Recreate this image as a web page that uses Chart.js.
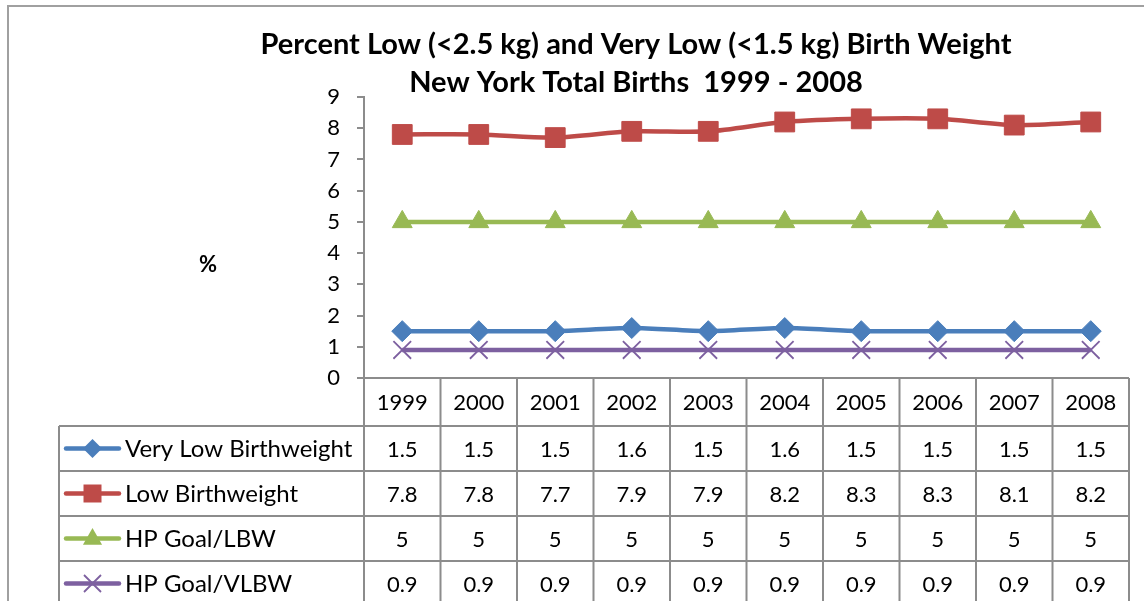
<!DOCTYPE html>
<html>
<head>
<meta charset="utf-8">
<script src="https://cdn.jsdelivr.net/npm/chart.js@4.4.1/dist/chart.umd.min.js"></script>
<style>
html,body{margin:0;padding:0;background:#fff;}
#wrap{width:1144px;height:601px;position:relative;}
</style>
</head>
<body>
<div id="wrap"><canvas id="c" width="1144" height="601"></canvas></div>
<script>
const years = ['1999','2000','2001','2002','2003','2004','2005','2006','2007','2008'];
const veryLowBW = [1.5,1.5,1.5,1.6,1.5,1.6,1.5,1.5,1.5,1.5];
const lowBW = [7.8,7.8,7.7,7.9,7.9,8.2,8.3,8.3,8.1,8.2];
const goalLBW = [5,5,5,5,5,5,5,5,5,5];
const goalVLBW = [0.9,0.9,0.9,0.9,0.9,0.9,0.9,0.9,0.9,0.9];
const seriesNames = ['Very Low Birthweight','Low Birthweight','HP Goal/LBW','HP Goal/VLBW'];
const titleLines = ['Percent Low (<2.5 kg) and Very Low (<1.5 kg) Birth Weight','New York Total Births  1999 - 2008'];
const yAxisTitle = '%';

const colors = ['#4A7EBB','#BE4B48','#98B954','#7D60A0'];
const FONT = 'Lato, "Open Sans", sans-serif';
const GRID = '#8C8C8C';

function drawMarker(ctx, style, x, y, color){
  ctx.save();
  ctx.fillStyle = color; ctx.strokeStyle = color;
  ctx.beginPath();
  if(style==='rectRot'){ const r=9.5; ctx.moveTo(x,y-r);ctx.lineTo(x+r,y);ctx.lineTo(x,y+r);ctx.lineTo(x-r,y);ctx.closePath();ctx.fill(); }
  else if(style==='rect'){ const s=9; ctx.rect(x-s,y-s,2*s,2*s); ctx.fill(); }
  else if(style==='triangle'){ const r=10.5; ctx.moveTo(x,y-r);ctx.lineTo(x+r*0.866*1.05,y+r*0.6);ctx.lineTo(x-r*0.866*1.05,y+r*0.6);ctx.closePath();ctx.fill(); }
  else if(style==='crossRot'){ const d=8.5; ctx.lineWidth=1.8; ctx.moveTo(x-d,y-d);ctx.lineTo(x+d,y+d);ctx.moveTo(x+d,y-d);ctx.lineTo(x-d,y+d);ctx.stroke(); }
  ctx.restore();
}

const tablePlugin = {
  id:'tablePlugin',
  afterDraw(chart){
    const ctx = chart.ctx;
    const ca = chart.chartArea;
    const xs = chart.scales.x;
    const n = years.length;
    const colW = (ca.right - ca.left)/n;
    ctx.save();
    // outer border
    ctx.strokeStyle = '#A0A0A0'; ctx.lineWidth = 2;
    ctx.beginPath(); ctx.moveTo(8,601); ctx.lineTo(8,6); ctx.lineTo(1144,6); ctx.stroke();
    // title
    ctx.fillStyle = '#000';
    ctx.textAlign='center'; ctx.textBaseline='middle';
    ctx.font = 'bold 29px '+FONT;
    ctx.fillText(titleLines[0], 636, 45);
    ctx.fillText(titleLines[1], 636, 83);
    // y title
    ctx.font = 'bold 22px '+FONT;
    ctx.fillText(yAxisTitle, 208, 265);
    // table grid
    const rowTops = [ca.bottom, ca.bottom+48, ca.bottom+93, ca.bottom+138, ca.bottom+183];
    const legendLeft = 59;
    ctx.strokeStyle = GRID; ctx.lineWidth = 2;
    ctx.beginPath();
    ctx.moveTo(357, ca.bottom); ctx.lineTo(ca.right, ca.bottom);
    for(let i=1;i<rowTops.length;i++){ ctx.moveTo(legendLeft, rowTops[i]); ctx.lineTo(ca.right, rowTops[i]); }
    for(let i=0;i<=n;i++){ const x = ca.left + i*colW; ctx.moveTo(x, ca.bottom); ctx.lineTo(x, 601); }
    ctx.moveTo(legendLeft, rowTops[1]); ctx.lineTo(legendLeft, 601);
    ctx.stroke();
    // header
    ctx.fillStyle='#000';
    ctx.font = '22px '+FONT;
    ctx.textAlign='center'; ctx.textBaseline='middle';
    years.forEach((y,i)=>{ ctx.fillText(y, xs.getPixelForValue(i), (rowTops[0]+rowTops[1])/2+1); });
    // rows
    const styles = ['rectRot','rect','triangle','crossRot'];
    chart.data.datasets.forEach((ds,r)=>{
      const yc = (rowTops[r+1] + (rowTops[r+2]||rowTops[r+1]+45))/2 + 1;
      ctx.fillStyle='#000'; ctx.textAlign='center';
      ctx.font = '22px '+FONT;
      ds.data.forEach((v,i)=>{ ctx.fillText(String(v), xs.getPixelForValue(i), yc); });
      // legend key
      ctx.save();
      ctx.strokeStyle = colors[r]; ctx.lineWidth = 4.5; ctx.lineCap='round';
      ctx.beginPath(); ctx.moveTo(66, yc-1); ctx.lineTo(119, yc-1); ctx.stroke();
      ctx.restore();
      drawMarker(ctx, styles[r], 92.5, yc-1, colors[r]);
      ctx.fillStyle='#000'; ctx.textAlign='left';
      ctx.font = '24px '+FONT;
      ctx.fillText(seriesNames[r], 125, yc);
    });
    ctx.restore();
  }
};

const common = {borderWidth:4.5, tension:0.3, fill:false, pointBorderWidth:1};
new Chart(document.getElementById('c'), {
  type:'line',
  data:{
    labels: years,
    datasets:[
      Object.assign({label:seriesNames[0], data:veryLowBW, borderColor:colors[0], backgroundColor:colors[0], pointStyle:'rectRot', pointRadius:10.5}, common),
      Object.assign({label:seriesNames[1], data:lowBW, borderColor:colors[1], backgroundColor:colors[1], pointStyle:'rect', pointRadius:14}, common),
      Object.assign({label:seriesNames[2], data:goalLBW, borderColor:colors[2], backgroundColor:colors[2], pointStyle:'triangle', pointRadius:11.5}, common),
      Object.assign({label:seriesNames[3], data:goalVLBW, borderColor:colors[3], backgroundColor:colors[3], pointStyle:'crossRot', pointRadius:12.5}, common, {pointBorderWidth:1.8})
    ]
  },
  options:{
    responsive:false,
    animation:false,
    events:[],
    layout:{padding:{left:0, top:97, right:5, bottom:223}},
    plugins:{legend:{display:false}, title:{display:false}, tooltip:{enabled:false}},
    scales:{
      x:{display:false, offset:true},
      y:{
        min:0, max:9,
        afterFit(s){ s.width = 364; },
        ticks:{stepSize:1, color:'#000', font:{family:FONT, size:22}, padding:17},
        grid:{drawOnChartArea:false, tickLength:7, color:GRID, lineWidth:2},
        border:{display:true, color:GRID, width:2}
      }
    }
  },
  plugins:[tablePlugin]
});
</script>
</body>
</html>
